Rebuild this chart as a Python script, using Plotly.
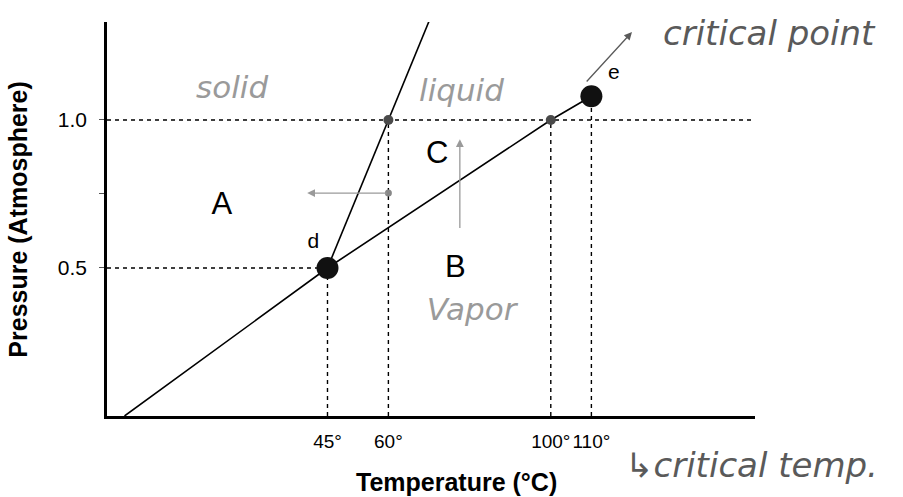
import plotly.graph_objects as go

# ---------------- data ----------------
x_tick_vals = [45, 60, 100, 110]
x_tick_text = ["45°", "60°", "100°", "110°"]
y_tick_vals = [0.5, 0.75, 1.0]
y_tick_text = ["0.5", "", "1.0"]

# boundary curves
vapor_T = [-5, 45, 100, 110]
vapor_P = [0.0, 0.5, 1.0, 1.08]
fusion_T = [45, 60, 70.5]
fusion_P = [0.5, 1.0, 1.35]

# special points
big_T = [45, 110]          # d, e (critical point)
big_P = [0.5, 1.08]
small_T = [60, 100]
small_P = [1.0, 1.0]

# dashed guides
guide_P_levels = [0.5, 1.0]
guide_T_ends = [45, None]   # None -> runs to the right edge
vert_T = [45, 60, 100, 110]
vert_P = [0.5, 1.0, 1.0, 1.08]

# printed labels
region_text = ["A", "B", "C"]
region_T = [19, 76.5, 72]
region_P = [0.71, 0.495, 0.882]
point_text = ["d", "e"]
point_T = [41.5, 115.5]
point_P = [0.585, 1.155]

# handwritten notes
note_text = ["solid", "liquid", "Vapor"]
note_T = [21.5, 78, 80.5]
note_P = [1.10, 1.09, 0.35]

X_RANGE = [-9.31, 150.3]
Y_RANGE = [0, 1.331]

FONT = "Liberation Sans, Arial, sans-serif"
HAND = "DejaVu Sans, sans-serif"
HAND_LIGHT = "#9a9a9a"
HAND_DARK = "#5a5a5a"

fig = go.Figure()

dash_style = dict(color="black", width=1.4, dash="4px,4px")
for lvl, end in zip(guide_P_levels, guide_T_ends):
    fig.add_trace(go.Scatter(x=[X_RANGE[0], end if end is not None else X_RANGE[1]],
                             y=[lvl, lvl], mode="lines", line=dash_style,
                             hoverinfo="skip", showlegend=False))
for t, p in zip(vert_T, vert_P):
    fig.add_trace(go.Scatter(x=[t, t], y=[0, p], mode="lines", line=dash_style,
                             hoverinfo="skip", showlegend=False))

fig.add_trace(go.Scatter(x=vapor_T, y=vapor_P, mode="lines",
                         line=dict(color="black", width=1.6), showlegend=False))
fig.add_trace(go.Scatter(x=fusion_T, y=fusion_P, mode="lines",
                         line=dict(color="black", width=1.6), showlegend=False,
                         cliponaxis=False))

fig.add_trace(go.Scatter(x=small_T, y=small_P, mode="markers",
                         marker=dict(size=10, color="#4a4a4a"), showlegend=False))
fig.add_trace(go.Scatter(x=big_T, y=big_P, mode="markers",
                         marker=dict(size=22, color="#111111"), showlegend=False))

fig.add_trace(go.Scatter(x=region_T, y=region_P, mode="text", text=region_text,
                         textfont=dict(family=FONT, size=31, color="black"),
                         showlegend=False))
fig.add_trace(go.Scatter(x=point_T, y=point_P, mode="text", text=point_text,
                         textfont=dict(family=FONT, size=21, color="black"),
                         showlegend=False))

fig.add_trace(go.Scatter(x=note_T, y=note_P, mode="text", text=note_text,
                         textfont=dict(family=HAND, size=31, color=HAND_LIGHT,
                                       style="italic", weight=200),
                         showlegend=False))

arrow = dict(showarrow=True, arrowhead=2, arrowsize=1.2, arrowwidth=1.3,
             text="", axref="x", ayref="y")
fig.add_annotation(x=40, y=0.753, ax=60, ay=0.753, arrowcolor=HAND_LIGHT, **arrow)
fig.add_annotation(x=77.6, y=0.935, ax=77.6, ay=0.63, arrowcolor=HAND_LIGHT, **arrow)
fig.add_annotation(x=120, y=1.297, ax=108.5, ay=1.125, arrowcolor=HAND_DARK, **arrow)
fig.add_trace(go.Scatter(x=[60], y=[0.753], mode="markers",
                         marker=dict(size=7, color="#888888"), showlegend=False))

center = dict(xanchor="center", yanchor="middle")
fig.add_annotation(x=1.023, y=0.972, xref="paper", yref="paper", showarrow=False,
                   text="critical point", **center,
                   font=dict(family=HAND, size=34, color=HAND_DARK, style="italic", weight=200))
fig.add_annotation(x=0.994, y=-0.124, xref="paper", yref="paper", showarrow=False,
                   text="↳critical temp.", **center,
                   font=dict(family=HAND, size=34, color=HAND_DARK, style="italic", weight=200))

# axis titles
fig.add_annotation(x=0.5386, y=-0.1675, xref="paper", yref="paper", showarrow=False,
                   text="<b>Temperature (°C)</b>", **center,
                   font=dict(family=FONT, size=25, color="black"))
fig.add_annotation(x=(18.5 - 107) / 648, y=0.497, xref="paper", yref="paper", showarrow=False,
                   textangle=-90, text="<b>Pressure (Atmosphere)</b>", **center,
                   font=dict(family=FONT, size=25, color="black"))

fig.update_xaxes(range=X_RANGE, showgrid=False, zeroline=False, showline=True,
                 linecolor="black", linewidth=2.5, tickvals=x_tick_vals, ticktext=x_tick_text,
                 ticks="", ticklabelstandoff=6, tickangle=0,
                 tickfont=dict(family=FONT, size=19, color="black"), automargin=False)
fig.update_yaxes(range=Y_RANGE, showgrid=False, zeroline=False, showline=True,
                 linecolor="black", linewidth=2.5, tickvals=y_tick_vals, ticktext=y_tick_text,
                 ticks="outside", ticklen=5, tickcolor="#555", ticklabelstandoff=8,
                 tickfont=dict(family=FONT, size=21, color="black"), automargin=False)

fig.update_layout(width=903, height=497, margin=dict(l=107, r=148, t=22, b=81),
                  plot_bgcolor="white", paper_bgcolor="white", showlegend=False)

# remove the default page margin so the figure sits at the window's top-left corner
fig.write_html("out.html", config={"displayModeBar": False},
               post_script="document.body.style.margin='0px';")
